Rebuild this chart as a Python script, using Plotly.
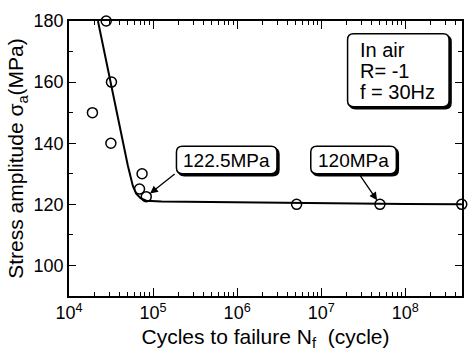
import plotly.graph_objects as go

# ---- data ----
test_cycles = [1.9e4, 2.77e4, 3.2e4, 3.15e4, 6.9e4, 7.4e4, 8.3e4, 5.1e6, 5.0e7, 4.7e8]
test_stress = [150, 180, 160, 140, 125, 130, 122.5, 120, 120, 120]

curve_cycles = [2.21e4, 3.16e4, 3.98e4, 5.0e4, 5.75e4, 6.3e4, 7.1e4, 8.3e4, 1.26e5, 1e6, 1e7, 1e8, 4.7e8]
curve_stress = [180, 159.4, 146, 132.8, 126, 123.5, 122, 121.2, 120.9, 120.6, 120.3, 120.1, 120]

x_major = [1e4, 1e5, 1e6, 1e7, 1e8]
x_major_text = ["10<sup>4</sup>", "10<sup>5</sup>", "10<sup>6</sup>", "10<sup>7</sup>", "10<sup>8</sup>"]
y_major = [100, 120, 140, 160, 180]
y_minor = [90, 110, 130, 150, 170]

FONT = "Liberation Sans, Arial, sans-serif"

# plot area in pixels
L, R, T, B = 69, 464, 20, 299
W, H = 475, 356

def px(xp, yp):
    return (xp - L) / (R - L), (B - yp) / (B - T)

def rrect(x0, y0, x1, y1, r=6):
    def P(x, y):
        a, b = px(x, y)
        return f"{a:.5f},{b:.5f}"
    return (f"M {P(x0 + r, y0)} L {P(x1 - r, y0)} Q {P(x1, y0)} {P(x1, y0 + r)} "
            f"L {P(x1, y1 - r)} Q {P(x1, y1)} {P(x1 - r, y1)} L {P(x0 + r, y1)} "
            f"Q {P(x0, y1)} {P(x0, y1 - r)} L {P(x0, y0 + r)} Q {P(x0, y0)} {P(x0 + r, y0)} Z")

fig = go.Figure()
fig.add_trace(go.Scatter(x=curve_cycles, y=curve_stress, mode="lines",
                         line=dict(color="black", width=2), hoverinfo="skip"))
fig.add_trace(go.Scatter(x=test_cycles, y=test_stress, mode="markers",
                         marker=dict(symbol="circle-open", size=10, color="black",
                                     line=dict(width=1.5, color="black")),
                         cliponaxis=False))

x_minor = [k * 10 ** e for e in range(4, 9) for k in range(2, 10)]

fig.update_xaxes(type="log", range=[4, 8.675],
                 tickvals=x_major, ticktext=x_major_text,
                 ticks="inside", ticklen=8, tickwidth=1.2, tickcolor="black",
                 minor=dict(tickvals=x_minor, ticks="inside", ticklen=4, tickwidth=1.2, tickcolor="black"),
                 showline=True, linecolor="black", linewidth=1.5, mirror="ticks",
                 showgrid=False, zeroline=False,
                 tickfont=dict(family=FONT, size=18, color="black"),
                 title=dict(text="Cycles to failure N<sub>f</sub>\u00a0\u00a0(cycle)",
                            font=dict(family=FONT, size=21, color="black"), standoff=7))
fig.update_yaxes(range=[90, 180],
                 tickvals=y_major, ticks="inside", ticklen=7, tickwidth=1.2, tickcolor="black",
                 minor=dict(tickvals=y_minor, ticks="inside", ticklen=4, tickwidth=1.2, tickcolor="black"),
                 showline=True, linecolor="black", linewidth=1.5, mirror="ticks",
                 showgrid=False, zeroline=False,
                 tickfont=dict(family=FONT, size=18, color="black"),
                 title=dict(text="Stress amplitude \u03c3<sub>a</sub>(MPa)",
                            font=dict(family=FONT, size=21, color="black"), standoff=4))

shapes = []
annotations = []
boxes = [
    ((177, 147, 278, 175), ["122.5MPa"], "center"),
    ((312, 147, 398, 175), ["120MPa"], "center"),
    ((349, 33, 451, 107), ["In air", "R= -1", "f = 30Hz"], "left"),
]
for (x0, y0, x1, y1), lines, align in boxes:
    shapes.append(dict(type="path", path=rrect(x0 + 2, y0 + 2, x1 + 2, y1 + 2),
                       xref="paper", yref="paper", fillcolor="black",
                       line=dict(color="black", width=1.5), layer="above"))
    shapes.append(dict(type="path", path=rrect(x0, y0, x1, y1),
                       xref="paper", yref="paper", fillcolor="white",
                       line=dict(color="black", width=1.5), layer="above"))
    if align == "center":
        cx, cy = px((x0 + x1) / 2, (y0 + y1) / 2 + 1)
        annotations.append(dict(x=cx, y=cy, xref="paper", yref="paper", text=lines[0],
                                showarrow=False, xanchor="center", yanchor="middle",
                                font=dict(family=FONT, size=19, color="black")))
    else:
        ys = [49, 71, 92]
        for t, yy in zip(lines, ys):
            cx, cy = px(x0 + 10, yy)
            annotations.append(dict(x=cx, y=cy, xref="paper", yref="paper", text=t,
                                    showarrow=False, xanchor="left", yanchor="middle",
                                    font=dict(family=FONT, size=20, color="black")))

annotations.append(dict(x=4.918, y=122.5, xref="x", yref="y", text="", showarrow=True,
                        ax=30, ay=-24, arrowhead=2, arrowsize=1.2, arrowwidth=1.3,
                        arrowcolor="black", standoff=5))
annotations.append(dict(x=7.699, y=120, xref="x", yref="y", text="", showarrow=True,
                        ax=-22, ay=-32, arrowhead=2, arrowsize=1.2, arrowwidth=1.3,
                        arrowcolor="black", standoff=5))

fig.update_layout(width=W, height=H, margin=dict(l=L, r=W - R, t=T, b=H - B),
                  plot_bgcolor="white", paper_bgcolor="white", showlegend=False,
                  shapes=shapes, annotations=annotations,
                  font=dict(family=FONT, color="black"))

fig.write_html("out.html")
